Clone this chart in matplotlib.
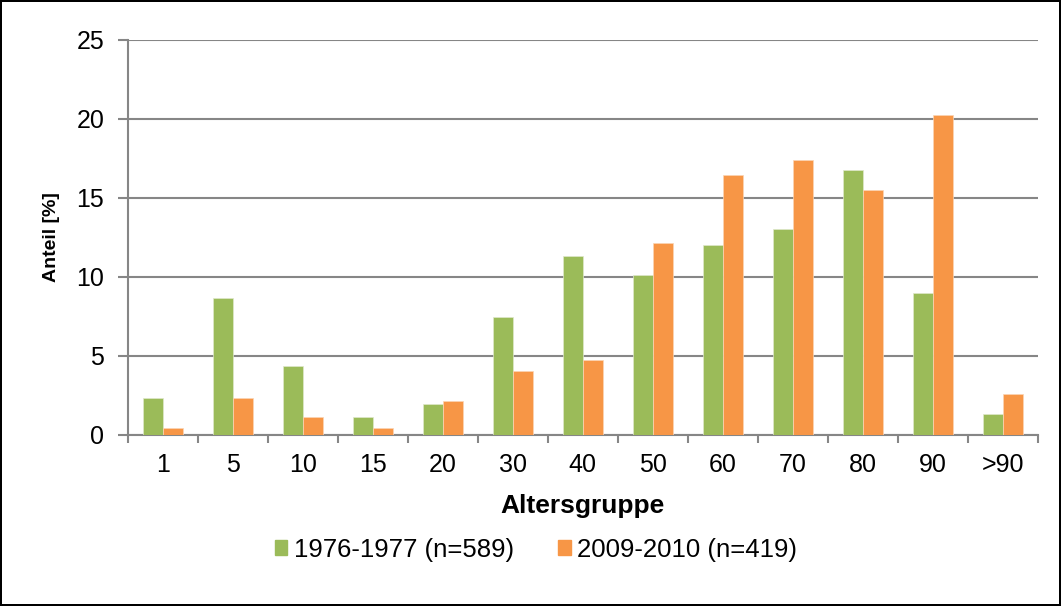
import matplotlib.pyplot as plt
import numpy as np
from matplotlib.patches import Patch

plt.rcParams['font.family'] = ['Liberation Sans', 'DejaVu Sans']

groups = ['1', '5', '10', '15', '20', '30', '40', '50', '60', '70', '80', '90', '>90']
werte_1976 = [2.35, 8.68, 4.39, 1.16, 1.99, 7.48, 11.33, 10.13, 12.0, 13.04, 16.77, 8.97, 1.31]
werte_2009 = [0.45, 2.35, 1.16, 0.45, 2.12, 4.05, 4.73, 12.13, 16.43, 17.41, 15.49, 20.25, 2.57]
labels = ['1976-1977 (n=589)', '2009-2010 (n=419)']
farben = ['#9BBB59', '#F79646']
grau = '#868686'

fig = plt.figure(figsize=(10.61, 6.06), dpi=100, linewidth=1.5, edgecolor='black')
ax = fig.add_axes([0.1206, 0.2822, 0.8574, 0.6518])

x = np.arange(len(groups))
w = 0.286
ax.bar(x - w / 2, werte_1976, w, color=farben[0], edgecolor='#dfe8cc', linewidth=0.5, zorder=3)
ax.bar(x + w / 2, werte_2009, w, color=farben[1], edgecolor='#fbd5b5', linewidth=0.5, zorder=3)

ax.set_xlim(-0.5, len(groups) - 0.5)
ax.set_ylim(0, 25)
ax.set_yticks(range(0, 26, 5))
ax.yaxis.grid(True, color=grau, linewidth=1.5)
ax.set_axisbelow(True)

ax.set_xticks(x)
ax.set_xticklabels(groups, fontsize=18)
ax.set_xticks(np.arange(-0.5, len(groups)), minor=True)
ax.tick_params(axis='x', which='major', length=0, pad=13)
ax.tick_params(axis='x', which='minor', length=6, color=grau, width=1.5)
ax.tick_params(axis='y', labelsize=18, length=7, color=grau, width=1.5, pad=10)

for s in ['top', 'right']:
    ax.spines[s].set_visible(False)
for s in ['left', 'bottom']:
    ax.spines[s].set_color(grau)
    ax.spines[s].set_linewidth(1.5)

ax.set_xlabel('Altersgruppe', fontsize=19, fontweight='bold', labelpad=12)
ax.set_ylabel('Anteil [%]', fontsize=14, fontweight='bold', labelpad=12)

handles = [Patch(color=farben[0]), Patch(color=farben[1])]
fig.legend(handles, labels, loc='center', bbox_to_anchor=(0.505, 0.093), ncol=2,
           frameon=False, fontsize=18.5, handlelength=0.5, handleheight=0.5,
           handletextpad=0.25, columnspacing=1.7)

fig.savefig('out.png', dpi=100, edgecolor=fig.get_edgecolor())
